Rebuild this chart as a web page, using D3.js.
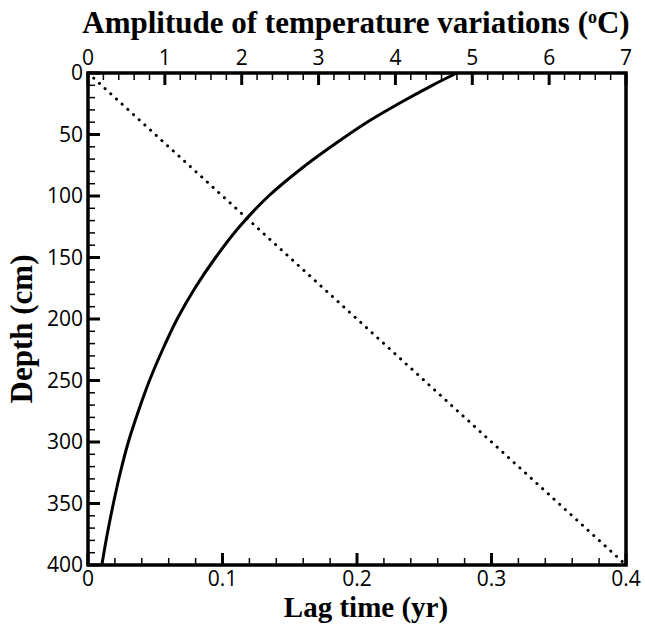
<!DOCTYPE html>
<html>
<head>
<meta charset="utf-8">
<script src="https://cdn.jsdelivr.net/npm/d3@7"></script>
<style>
  body { margin: 0; background: #fff; }
  svg { display: block; }
  .tick-label { font-family: "Open Sans", "DejaVu Sans", sans-serif; font-size: 21px; fill: #000; }
  .axis-title { font-family: "Liberation Serif", "Times New Roman", serif; font-weight: bold; font-size: 31px; fill: #000; }
</style>
</head>
<body>
<div id="chart"></div>
<script>
// depth (cm) and amplitude of temperature variations (oC), solid curve
const depth = [0, 10, 25, 42, 60, 77, 100, 125, 150, 175, 200, 225, 250, 275, 300, 325, 350, 375, 400];
const amplitude = [4.80, 4.48, 4.04, 3.58, 3.16, 2.79, 2.35, 1.97, 1.66, 1.39, 1.16, 0.97, 0.80, 0.655, 0.525, 0.42, 0.33, 0.25, 0.18];

// lag time (yr) vs depth, dotted line
const lagDepth = [0, 400];
const lagTime = [0, 0.4];

const ampTicks = [0, 1, 2, 3, 4, 5, 6, 7];
const lagTicks = [0, 0.1, 0.2, 0.3, 0.4];
const depthTicks = [0, 50, 100, 150, 200, 250, 300, 350, 400];

const W = 645, H = 624;
const margin = { top: 73, right: 19, bottom: 59, left: 88 };
const width = W - margin.left - margin.right;
const height = H - margin.top - margin.bottom;

const svg = d3.select('#chart').append('svg')
  .attr('width', W)
  .attr('height', H);

const g = svg.append('g')
  .attr('transform', `translate(${margin.left},${margin.top})`);

const xAmp = d3.scaleLinear().domain([0, 7]).range([0, width]);
const xLag = d3.scaleLinear().domain([0, 0.4]).range([0, width]);
const y = d3.scaleLinear().domain([0, 400]).range([0, height]);

// minor ticks, drawn inward like the major ones
const minorAmp = d3.range(0, 7.001, 0.2).filter(v => Math.abs(v - Math.round(v)) > 1e-6);
const minorLag = d3.range(0, 0.4001, 0.02).filter(v => Math.abs(v * 10 - Math.round(v * 10)) > 1e-6);
const minorDepth = d3.range(0, 401, 10).filter(v => v % 50 !== 0);

const ticks = g.append('g').attr('stroke', '#000');

ticks.selectAll('.minor-top').data(minorAmp).enter().append('line')
  .attr('x1', d => xAmp(d)).attr('x2', d => xAmp(d))
  .attr('y1', 0).attr('y2', 7)
  .attr('stroke-width', 1.5);
ticks.selectAll('.major-top').data(ampTicks).enter().append('line')
  .attr('x1', d => xAmp(d)).attr('x2', d => xAmp(d))
  .attr('y1', 0).attr('y2', 12)
  .attr('stroke-width', 3);

ticks.selectAll('.minor-bot').data(minorLag).enter().append('line')
  .attr('x1', d => xLag(d)).attr('x2', d => xLag(d))
  .attr('y1', height).attr('y2', height - 7)
  .attr('stroke-width', 1.5);
ticks.selectAll('.major-bot').data(lagTicks).enter().append('line')
  .attr('x1', d => xLag(d)).attr('x2', d => xLag(d))
  .attr('y1', height).attr('y2', height - 12)
  .attr('stroke-width', 3);

ticks.selectAll('.minor-left').data(minorDepth).enter().append('line')
  .attr('x1', 0).attr('x2', 7)
  .attr('y1', d => y(d)).attr('y2', d => y(d))
  .attr('stroke-width', 1.5);
ticks.selectAll('.major-left').data(depthTicks).enter().append('line')
  .attr('x1', 0).attr('x2', 12)
  .attr('y1', d => y(d)).attr('y2', d => y(d))
  .attr('stroke-width', 3);

// dotted lag line
const lagData = lagDepth.map((d, i) => ({ depth: d, lag: lagTime[i] }));
g.append('path')
  .datum(lagData)
  .attr('fill', 'none')
  .attr('stroke', '#000')
  .attr('stroke-width', 3)
  .attr('stroke-linecap', 'round')
  .attr('stroke-dasharray', '0.1 7.6')
  .attr('d', d3.line().x(d => xLag(d.lag)).y(d => y(d.depth)));

// solid amplitude curve
const ampData = depth.map((d, i) => ({ depth: d, amp: amplitude[i] }));
g.append('path')
  .datum(ampData)
  .attr('fill', 'none')
  .attr('stroke', '#000')
  .attr('stroke-width', 3)
  .attr('d', d3.line().curve(d3.curveCatmullRom.alpha(0.5)).x(d => xAmp(d.amp)).y(d => y(d.depth)));

// frame
g.append('rect')
  .attr('width', width)
  .attr('height', height)
  .attr('fill', 'none')
  .attr('stroke', '#000')
  .attr('stroke-width', 3.5);

// tick labels
g.selectAll('.lab-top').data(ampTicks).enter().append('text')
  .attr('class', 'tick-label')
  .attr('x', d => xAmp(d))
  .attr('y', -8)
  .attr('text-anchor', 'middle')
  .text(d => d);

g.selectAll('.lab-bot').data(lagTicks).enter().append('text')
  .attr('class', 'tick-label')
  .attr('x', d => xLag(d))
  .attr('y', height + 21)
  .attr('text-anchor', 'middle')
  .text(d => d);

g.selectAll('.lab-left').data(depthTicks).enter().append('text')
  .attr('class', 'tick-label')
  .attr('x', -5)
  .attr('y', d => y(d))
  .attr('dy', '0.35em')
  .attr('text-anchor', 'end')
  .text(d => d);

// axis titles
const topTitle = svg.append('text')
  .attr('class', 'axis-title')
  .attr('x', 356)
  .attr('y', 33)
  .attr('text-anchor', 'middle');
topTitle.append('tspan').text('Amplitude of temperature variations (');
topTitle.append('tspan').attr('font-size', '18px').attr('dy', -10).text('o');
topTitle.append('tspan').attr('dy', 10).text('C)');

svg.append('text')
  .attr('class', 'axis-title')
  .attr('x', 366)
  .attr('y', 617)
  .style('font-size', '29px')
  .attr('text-anchor', 'middle')
  .text('Lag time (yr)');

svg.append('text')
  .attr('class', 'axis-title')
  .attr('transform', 'translate(32,329) rotate(-90)')
  .attr('text-anchor', 'middle')
  .text('Depth (cm)');
</script>
</body>
</html>
